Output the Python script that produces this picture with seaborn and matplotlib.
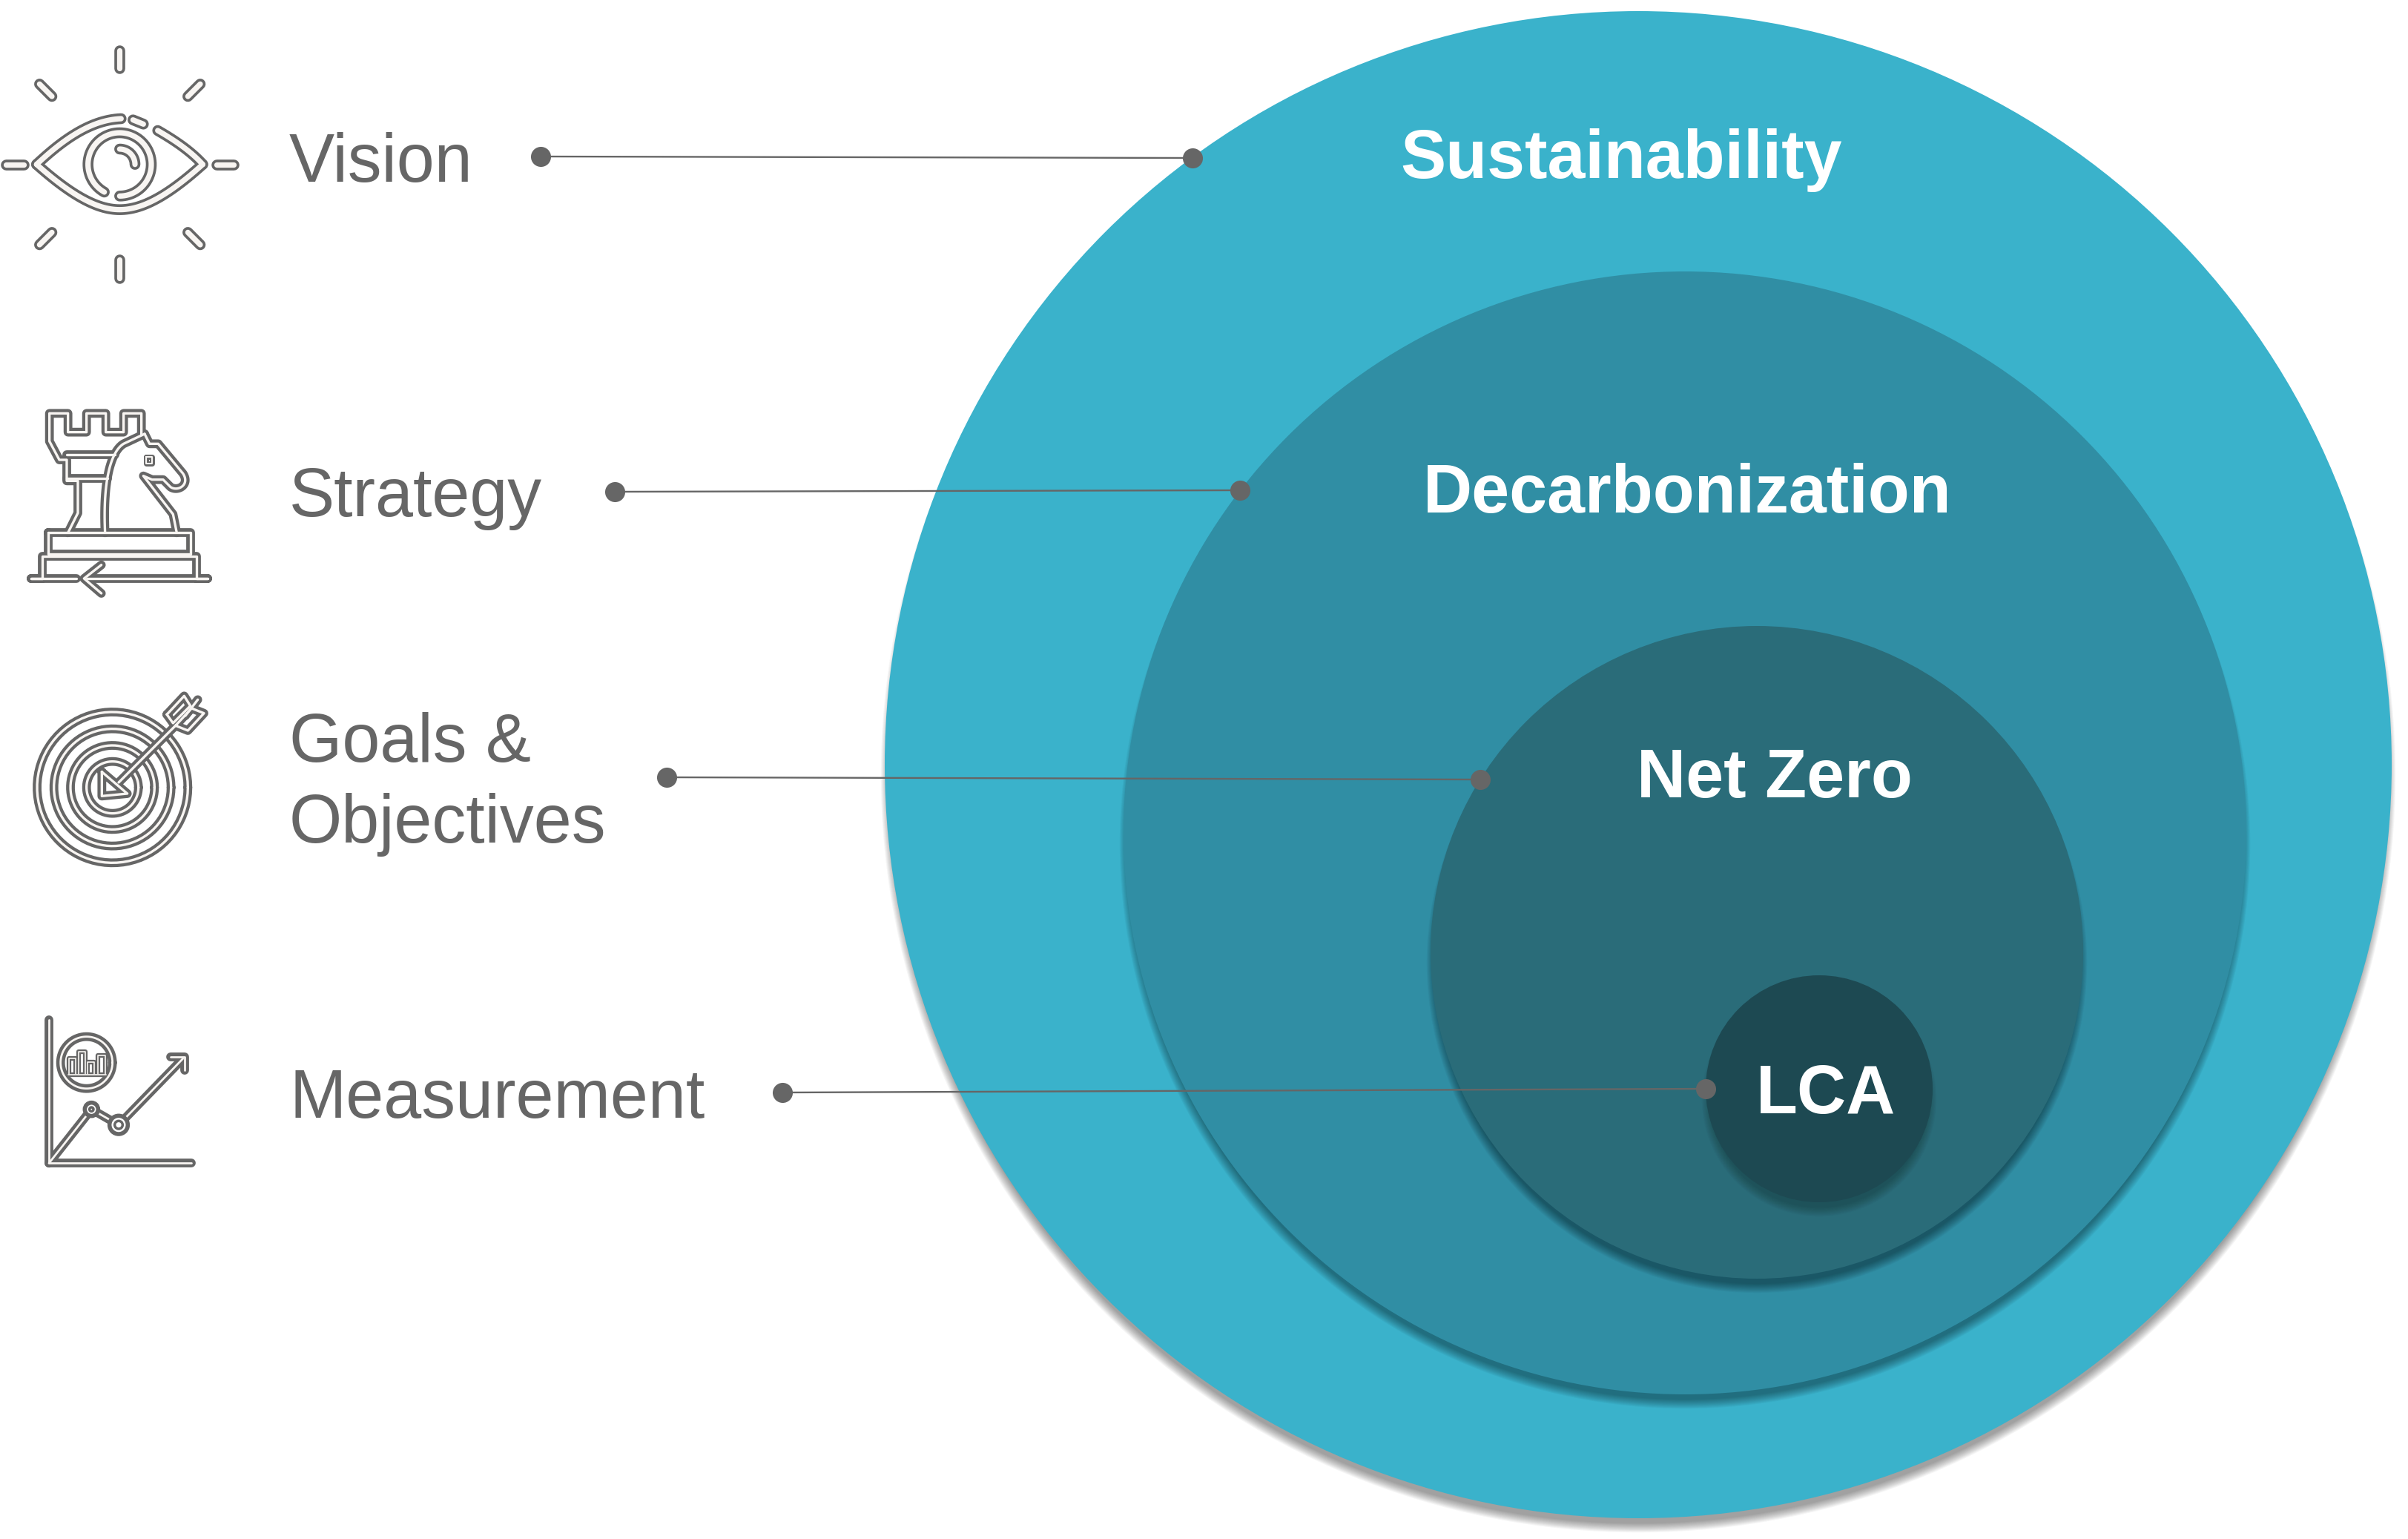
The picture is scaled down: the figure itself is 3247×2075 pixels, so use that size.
import numpy as np
import matplotlib
matplotlib.use('Agg')
import matplotlib.pyplot as plt
from matplotlib.patches import Circle
import seaborn as sns

# nested circles
circle_names = ['Sustainability', 'Decarbonization', 'Net Zero', 'LCA']
circle_x = [2209, 2272, 2369, 2453]
circle_y = [1031, 1123, 1284, 1468]
circle_r = [1016, 757, 440, 153]
circle_colors = ['#3AB2CB', '#308EA4', '#2A6C79', '#1D4952']
shadow_alpha = [0.035, 0.035, 0.035, 0.018]
name_x = [2186, 2275, 2393, 2462]
name_y = [240, 691, 1075, 1501]

# left labels and connectors
label_text = ['Vision', 'Strategy', 'Goals &', 'Objectives', 'Measurement']
label_y = [245, 696, 1027, 1136, 1507]
line_x0 = [729, 829, 899, 1055]
line_y0 = [211, 663, 1048, 1473]
line_x1 = [1608, 1672, 1996, 2300]
line_y1 = [213, 661, 1051, 1468]

GREY = '#666666'
LIGHT = '#F8F5F2'

sns.set_theme(style='white')
plt.rcParams['font.family'] = ['Liberation Sans', 'DejaVu Sans']

fig = plt.figure(figsize=(32.47, 20.75), dpi=100)
ax = fig.add_axes([0, 0, 1, 1])
ax.set_xlim(0, 3247)
ax.set_ylim(2075, 0)
ax.set_autoscale_on(False)
ax.axis('off')

# circles, shadow falls downward only
for i in range(4):
    for k in range(12, 0, -1):
        ax.add_patch(Circle((circle_x[i], circle_y[i] + 14), circle_r[i] - 8 + k * 1.1,
                            fc='black', ec='none', alpha=shadow_alpha[i], zorder=1 + i))
    ax.add_patch(Circle((circle_x[i], circle_y[i]), circle_r[i],
                        fc=circle_colors[i], ec='none', zorder=1 + i))


def stroke(pts, ox, oy, outer, inner, closed=False, z=6):
    # icon strokes: thick dark line with a thin light one on top, coords from crop (3x)
    xs = [ox + p[0] / 3 for p in pts]
    ys = [oy + p[1] / 3 for p in pts]
    if closed:
        xs.append(xs[0])
        ys.append(ys[0])
    ax.plot(xs, ys, color=GREY, lw=outer, solid_capstyle='round', solid_joinstyle='round', zorder=z)
    ax.plot(xs, ys, color=LIGHT, lw=inner, solid_capstyle='round', solid_joinstyle='round', zorder=z + 0.1)


def bez(p0, p1, p2, p3):
    t = np.linspace(0, 1, 30)[:, None]
    a, b, c, d = [np.array(p, float) for p in (p0, p1, p2, p3)]
    return list((1 - t) ** 3 * a + 3 * (1 - t) ** 2 * t * b + 3 * (1 - t) * t ** 2 * c + t ** 3 * d)


def arc(cx, cy, r, a0, a1):
    t = np.radians(np.linspace(a0, a1, 80))
    return list(zip(cx + r * np.cos(t), cy + r * np.sin(t)))


# eye
ex, ey = 0, 40
EO, EI = 10.5, 5.2
for seg in [[(484, 85), (484, 155)], [(484, 930), (484, 1005)],
            [(25, 545), (95, 545)], [(875, 545), (945, 545)],
            [(160, 220), (210, 270)], [(810, 220), (760, 270)],
            [(210, 820), (160, 870)], [(760, 820), (810, 870)],
            [(538, 365), (580, 382)]]:
    stroke(seg, ex, ey, EO, EI)
eye_lid = bez((148, 545), (300, 680), (400, 728), (484, 728)) + bez((484, 728), (570, 728), (670, 680), (820, 545))
stroke(eye_lid, ex, ey, EO, EI)
stroke(bez((148, 545), (260, 440), (370, 365), (490, 360)), ex, ey, EO, EI)
stroke(bez((638, 408), (720, 455), (780, 500), (820, 545)), ex, ey, EO, EI)
stroke(arc(484, 545, 128, 119, 450), ex, ey, EO, EI)
stroke(arc(484, 545, 62, 270, 360), ex, ey, EO, EI)

# chess pieces
cx, cy = 20, 530
SO, SI = 8.5, 2.4
rook = [(215, 565), (255, 485), (255, 355), (210, 355), (210, 270), (180, 270), (140, 195),
        (140, 82), (215, 82), (215, 158), (290, 158), (290, 82), (368, 82), (368, 158),
        (440, 158), (440, 82), (512, 82), (512, 170)]
stroke(rook, cx, cy, SO, SI)
stroke([(210, 250), (405, 250)], cx, cy, SO, SI)
stroke([(210, 345), (375, 345)], cx, cy, SO, SI)
knight_back = [(525, 165), (440, 205)] + bez((440, 205), (390, 235), (355, 350), (365, 565))
stroke(knight_back, cx, cy, SO, SI)
knight_head = [(525, 165), (545, 205), (580, 205), (680, 325)] + bez((680, 325), (710, 370), (660, 400), (630, 380)) + \
    [(600, 350), (555, 350), (520, 335), (640, 490), (655, 565)]
stroke(knight_head, cx, cy, SO, SI)
stroke([(530, 258), (555, 258), (555, 285), (530, 285)], cx, cy, 5, 1.5, closed=True)
stroke([(135, 565), (710, 565), (710, 650), (135, 650)], cx, cy, SO, SI, closed=True)
stroke([(250, 750), (65, 750), (110, 750), (110, 660), (735, 660), (735, 750), (780, 750), (290, 750)], cx, cy, SO, SI)
stroke([(350, 695), (280, 750), (350, 810)], cx, cy, SO, SI)

# target
tx, ty = 20, 920
for r in [305, 237, 170, 105]:
    stroke(arc(395, 425, r, 0, 360), tx, ty, SO, SI)
stroke([(420, 405), (650, 175)], tx, ty, SO, SI, z=7)
stroke([(352, 362), (352, 460), (455, 450)], tx, ty, SO, SI, closed=True, z=7)
stroke([(615, 130), (685, 55), (710, 95), (640, 165)], tx, ty, SO, SI, closed=True, z=7)
stroke([(650, 175), (700, 195), (765, 125), (715, 105)], tx, ty, SO, SI, closed=True, z=7)
stroke([(690, 135), (740, 70)], tx, ty, SO, SI, z=7)

# line chart
mx, my = 40, 1350
stroke([(78, 75), (78, 655), (655, 655)], mx, my, SO, 2)
stroke([(78, 655), (250, 437), (360, 500), (620, 232)], mx, my, SO, 2)
stroke([(570, 225), (628, 225), (628, 280)], mx, my, SO, 2)
for px, py, rr, ri in [(250, 437, 27, 8), (360, 500, 37, 16)]:
    ax.add_patch(Circle((mx + px / 3, my + py / 3), rr / 3, fc='white', ec=GREY, lw=4, zorder=7))
    ax.add_patch(Circle((mx + px / 3, my + py / 3), ri / 3, fc='white', ec=GREY, lw=2.5, zorder=7.1))
stroke(arc(230, 248, 105, 0, 360), mx, my, SO, 2)
for x0, x1, top in [(160, 185, 232), (197, 225, 205), (235, 262, 245), (275, 305, 220)]:
    stroke([(x0, 295), (x0, top), (x1, top), (x1, 295)], mx, my, 4.5, 1.2)
stroke([(155, 297), (310, 297)], mx, my, 4.5, 1.2)

# connectors and dots, on top of the circles
for i in range(4):
    sns.lineplot(x=[line_x0[i], line_x1[i]], y=[line_y0[i], line_y1[i]], ax=ax, color=GREY,
                 lw=1.7, errorbar=None, legend=False, zorder=8)
sns.scatterplot(x=line_x0 + line_x1, y=line_y0 + line_y1, ax=ax, color=GREY, s=380,
                linewidth=0, legend=False, zorder=9)

for t, y in zip(label_text, label_y):
    ax.text(390, y, t, fontsize=66, color=GREY, ha='left', va='baseline', zorder=10)
for t, x, y in zip(circle_names, name_x, name_y):
    ax.text(x, y, t, fontsize=66, color='white', fontweight='bold', ha='center', va='baseline', zorder=10)

fig.savefig('out.png', dpi=100, facecolor='white')
